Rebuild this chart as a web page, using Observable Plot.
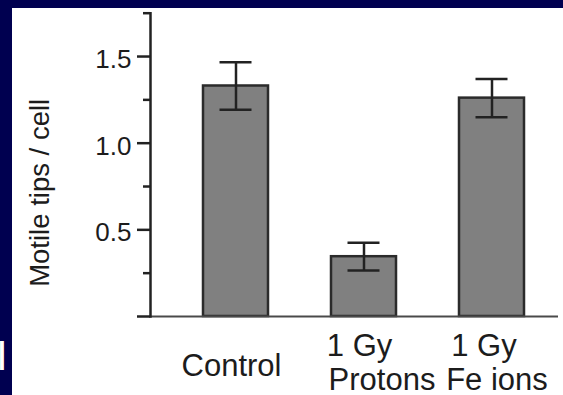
<!DOCTYPE html>
<html><head><meta charset="utf-8">
<script src="https://cdn.jsdelivr.net/npm/d3@7"></script>
<script src="https://cdn.jsdelivr.net/npm/@observablehq/plot@0.6"></script>
<style>
html,body{margin:0;padding:0;width:563px;height:395px;overflow:hidden;background:#000050;}
#panel{position:absolute;left:12px;top:8px;width:551px;height:387px;background:#fff;}
#chart{position:absolute;left:0;top:0;}
#frag{position:absolute;left:-4px;top:334.5px;font:42px/1 "Liberation Sans",Arial,sans-serif;color:#fff;}
</style></head><body>
<div id="panel"></div>
<span id="frag">I</span>
<div id="chart"></div>
<script>
const categories = ["Control", "1 Gy Protons", "1 Gy Fe ions"];
const xLabels = [["Control"], ["1 Gy", "Protons"], ["1 Gy", "Fe ions"]];
const means = [1.33, 0.345, 1.26];
const errors = [0.137, 0.08, 0.11];
const yLabel = "Motile tips / cell";
const majorTicks = [0, 0.5, 1.0, 1.5];
const minorTicks = [0.25, 0.75, 1.25, 1.75];

const data = categories.map((c, i) => ({cat: c, mean: means[i], lo: means[i] - errors[i], hi: means[i] + errors[i]}));
const font = '"Liberation Sans", Arial, Helvetica, sans-serif';
const ink = "#1c1c1c";

const offsets = [[-4.5], [-4.4, 18], [-8, 5]];
const textMarks = [];
xLabels.forEach((lines, i) => {
  lines.forEach((t, j) => {
    const base = lines.length === 1 ? 59 : (j === 0 ? 39 : 73);
    textMarks.push(Plot.text([categories[i]], {
      x: d => d, text: () => t, frameAnchor: "bottom", lineAnchor: "bottom",
      dy: base, dx: offsets[i][j], fontSize: 31, fill: ink
    }));
  });
});

const chart = Plot.plot({
  width: 563, height: 395,
  marginLeft: 150, marginRight: 5, marginTop: 12.7, marginBottom: 79,
  style: {background: "transparent", fontFamily: font, color: ink, overflow: "visible"},
  x: {domain: categories, range: [201.6, 525.3], paddingInner: 0.49, paddingOuter: 0, axis: null},
  y: {domain: [0, 1.75], axis: null},
  marks: [
    Plot.barY(data, {x: "cat", y: "mean", fill: "#808080", stroke: "#2b2b2b", strokeWidth: 2.5}),
    Plot.ruleY([0], {stroke: "#4a4a4a", strokeWidth: 2}),
    Plot.ruleX(data, {x: "cat", y1: "lo", y2: "hi", stroke: "#222", strokeWidth: 2.5}),
    Plot.tickY(data, {x: "cat", y: "lo", insetLeft: 16.5, insetRight: 16.5, stroke: "#222", strokeWidth: 2.5}),
    Plot.tickY(data, {x: "cat", y: "hi", insetLeft: 16.5, insetRight: 16.5, stroke: "#222", strokeWidth: 2.5}),
    Plot.axisY({ticks: majorTicks, tickSize: 13, tickFormat: () => "", stroke: "#222", strokeWidth: 2.5, label: null}),
    Plot.axisY({ticks: minorTicks, tickSize: 7, tickFormat: () => "", stroke: "#222", strokeWidth: 2.5, label: null}),
    Plot.text(majorTicks.filter(d => d > 0), {y: d => d, text: d => d.toFixed(1), frameAnchor: "left", textAnchor: "end", dx: -19, dy: 3, fontSize: 26, fill: ink}),
    Plot.frame({anchor: "left", stroke: "#222", strokeWidth: 2.5}),
    Plot.text([yLabel], {frameAnchor: "left", rotate: -90, dx: -110, dy: 28, fontSize: 27.5, textAnchor: "middle", lineAnchor: "middle", fill: ink}),
    ...textMarks
  ]
});
document.getElementById("chart").append(chart);
</script>
</body></html>
